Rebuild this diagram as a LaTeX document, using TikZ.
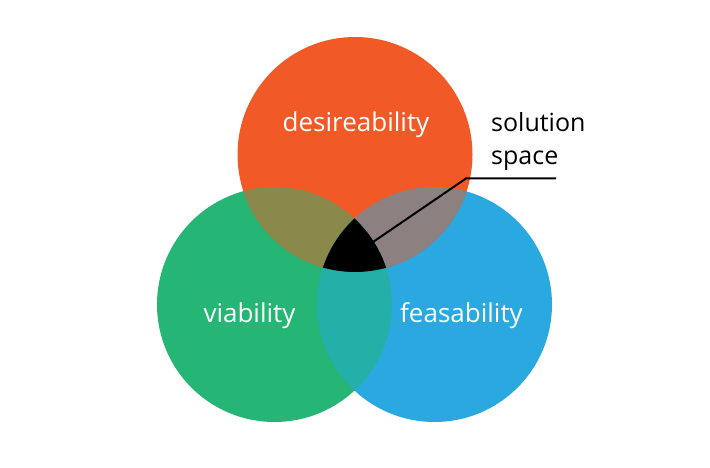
\documentclass[tikz,border=0pt]{standalone}
\usepackage{fontspec}
\setmainfont{Open Sans}
\definecolor{cOrange}{HTML}{F15A27}
\definecolor{cGreen}{HTML}{25B574}
\definecolor{cBlue}{HTML}{29A9E0}
\definecolor{cOlive}{HTML}{8A884B}
\definecolor{cGray}{HTML}{8C8180}
\definecolor{cTeal}{HTML}{25AFA9}
\begin{document}
\begin{tikzpicture}[x=1pt,y=-1pt,
  lbl/.style={text=white,font=\fontsize{26}{30}\selectfont,inner sep=0pt,anchor=base},
  side/.style={text=black,font=\fontsize{25}{33}\selectfont,inner sep=0pt,align=left,anchor=base west}]
\useasboundingbox (0,0) rectangle (710,468);
\def\R{117.5}
\coordinate (cT) at (355,154.5);
\coordinate (cL) at (274.5,304.5);
\coordinate (cR) at (434.5,304.5);
\fill[cGreen] (cL) circle[radius=\R];
\fill[cBlue] (cR) circle[radius=\R];
\fill[cOrange] (cT) circle[radius=\R];
\begin{scope}
  \clip (cT) circle[radius=\R];
  \fill[cOlive] (cL) circle[radius=\R];
  \fill[cGray] (cR) circle[radius=\R];
\end{scope}
\begin{scope}
  \clip (cL) circle[radius=\R];
  \fill[cTeal] (cR) circle[radius=\R];
  \clip (cR) circle[radius=\R];
  \fill[black] (cT) circle[radius=\R];
\end{scope}
\node[lbl] (d) at (356,132) {desireability};
\node[lbl] (v) at (249.5,322) {viability};
\node[lbl] (f) at (461.5,322) {feasability};
\node[side] (s) at (491,165) {solution\\space};
\coordinate (p0) at (373,242);
\coordinate (p1) at (466,178.5);
\coordinate (p2) at (556,178.5);
\draw[line width=2pt] (p0) -- (p1) -- (p2);
\end{tikzpicture}
\end{document}
